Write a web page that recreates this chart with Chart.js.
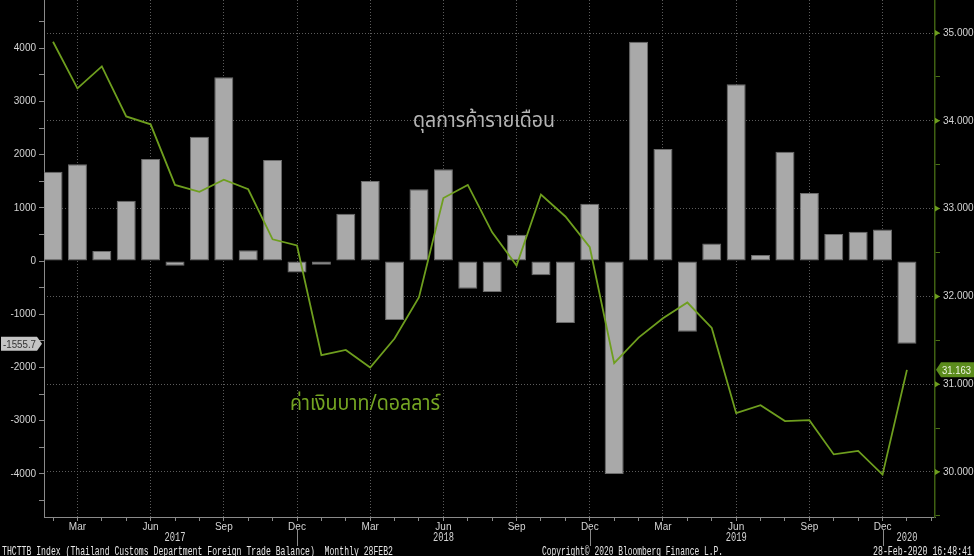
<!DOCTYPE html>
<html>
<head>
<meta charset="utf-8">
<script src="https://cdn.jsdelivr.net/npm/chart.js@4.4.1/dist/chart.umd.min.js"></script>
<style>
  html, body { margin: 0; padding: 0; background: #000; }
  canvas { display: block; }
</style>
</head>
<body>
<canvas id="chart" width="974" height="556"></canvas>
<script>
// monthly points, Feb 2017 .. Jan 2020
const months = [
  "Feb 2017", "Mar 2017", "Apr 2017", "May 2017", "Jun 2017", "Jul 2017", "Aug 2017", "Sep 2017", "Oct 2017", "Nov 2017", "Dec 2017",
  "Jan 2018", "Feb 2018", "Mar 2018", "Apr 2018", "May 2018", "Jun 2018", "Jul 2018", "Aug 2018", "Sep 2018", "Oct 2018", "Nov 2018", "Dec 2018",
  "Jan 2019", "Feb 2019", "Mar 2019", "Apr 2019", "May 2019", "Jun 2019", "Jul 2019", "Aug 2019", "Sep 2019", "Oct 2019", "Nov 2019", "Dec 2019",
  "Jan 2020"
];

// trade balance, USD mn (bars, left axis)
const tradeBalance = [
  1680, 1818, 190, 1133, 1917, -90, 2337, 3453, 201, 1898, -213,
  -70, 889, 1504, -1109, 1348, 1724, -520, -583, 494, -269, -1165, 1077,
  -4004, 4122, 2105, -1329, 332, 3321, 113, 2055, 1278, 507, 551, 595,
  -1555.7
];

// baht per dollar (line, right axis)
const bahtPerUsd = [
  34.90, 34.37, 34.62, 34.05, 33.96, 33.27, 33.19, 33.33, 33.22, 32.65, 32.58,
  31.33, 31.39, 31.19, 31.52, 31.99, 33.12, 33.27, 32.73, 32.35, 33.16, 32.91, 32.56,
  31.24, 31.53, 31.75, 31.93, 31.64, 30.67, 30.76, 30.58, 30.59, 30.20, 30.24, 29.97,
  31.163
];

const leftTicks = [-4000, -3000, -2000, -1000, 0, 1000, 2000, 3000, 4000];
const rightTicks = [30, 31, 32, 33, 34, 35];
const quarterMonths = ["Mar", "Jun", "Sep", "Dec"];
// year label -> month it sits under
const yearLabels = [["2017", "Jul 2017"], ["2018", "Jun 2018"], ["2019", "Jun 2019"], ["2020", "Jan 2020"]];

const tradeTitle = "ดุลการค้ารายเดือน";
const bahtTitle = "ค่าเงินบาท/ดอลลาร์";
const footLeft = "THCTTB Index (Thailand Customs Department Foreign Trade Balance)  Monthly 28FEB2";
const footMid = "Copyright\u00A9 2020 Bloomberg Finance L.P.";
const footRight = "28-Feb-2020 16:48:41";

const GREEN = "#6e9e1e";
const GRID = "#5c5c5c";
const AXIS = "#8a8a8a";
const LABEL = "#d4d4d4";
const SANS = "'Liberation Sans', Arial, sans-serif";
const MONO = "'Liberation Mono', 'DejaVu Sans Mono', monospace";
const THAI = "'Noto Sans Thai', 'Noto Sans Thai UI', 'Loma', 'Garuda', 'Noto Sans', sans-serif";

const isQuarter = (i) => months[i] && quarterMonths.includes(months[i].slice(0, 3));

// draw text squeezed/stretched to a given width
function fitText(ctx, text, left, baseline, width, font, color) {
  ctx.save();
  ctx.font = font;
  ctx.fillStyle = color;
  ctx.textAlign = "left";
  ctx.textBaseline = "alphabetic";
  const w = ctx.measureText(text).width || width;
  ctx.translate(left, baseline);
  ctx.scale(width / w, 1);
  ctx.fillText(text, 0, 0);
  ctx.restore();
}

// keep the plot flush with the canvas edges
function noPad(s) {
  s.paddingTop = 0;
  s.paddingBottom = 0;
  s.paddingLeft = 0;
  s.paddingRight = 0;
}

const decor = {
  id: "decor",
  afterDraw(chart) {
    const ctx = chart.ctx;
    const x = chart.scales.x;
    const yl = chart.scales.y;
    const yr = chart.scales.y1;
    const area = chart.chartArea;

    // right axis markers
    ctx.save();
    ctx.fillStyle = GREEN;
    rightTicks.forEach((v) => {
      const py = yr.getPixelForValue(v);
      ctx.beginPath();
      ctx.moveTo(area.right, py - 3);
      ctx.lineTo(area.right + 5, py);
      ctx.lineTo(area.right, py + 3);
      ctx.closePath();
      ctx.fill();
    });
    ctx.restore();

    // last value tag, left
    const lastTrade = tradeBalance[tradeBalance.length - 1];
    let py = yl.getPixelForValue(lastTrade);
    ctx.save();
    ctx.fillStyle = "#c4c4c4";
    ctx.beginPath();
    ctx.moveTo(1, py - 7);
    ctx.lineTo(37, py - 7);
    ctx.lineTo(42, py);
    ctx.lineTo(37, py + 7);
    ctx.lineTo(1, py + 7);
    ctx.closePath();
    ctx.fill();
    ctx.restore();
    fitText(ctx, String(lastTrade), 3, py + 4, 33, "10px " + SANS, "#333");

    // last value tag, right
    const lastBaht = bahtPerUsd[bahtPerUsd.length - 1];
    py = yr.getPixelForValue(lastBaht);
    ctx.save();
    ctx.fillStyle = "#5b8c1c";
    ctx.beginPath();
    ctx.moveTo(area.right + 1, py);
    ctx.lineTo(area.right + 6, py - 7.5);
    ctx.lineTo(974, py - 7.5);
    ctx.lineTo(974, py + 7.5);
    ctx.lineTo(area.right + 6, py + 7.5);
    ctx.closePath();
    ctx.fill();
    ctx.restore();
    fitText(ctx, lastBaht.toFixed(3), 942, py + 4, 29, "10px " + SANS, "#eef4e2");

    // year separators under December ticks
    ctx.save();
    ctx.strokeStyle = AXIS;
    ctx.lineWidth = 1;
    months.forEach((m, i) => {
      if (m.startsWith("Dec")) {
        const px = Math.round(x.getPixelForValue(i)) + 0.5;
        ctx.beginPath();
        ctx.moveTo(px, 530);
        ctx.lineTo(px, 546);
        ctx.stroke();
      }
    });
    ctx.restore();

    // year labels
    yearLabels.forEach(([yr4, m]) => {
      const px = x.getPixelForValue(months.indexOf(m));
      fitText(ctx, yr4, px - 10.5, 541, 21, "12px " + MONO, LABEL);
    });

    // series titles
    fitText(ctx, tradeTitle, 413, 127, 142, "21px " + THAI, "#b4b4b4");
    fitText(ctx, bahtTitle, 290, 410, 150, "21px " + THAI, "#74a422");

    // footer
    fitText(ctx, footLeft, 2, 555, 391, "12px " + MONO, "#e6e6e6");
    fitText(ctx, footMid, 542, 555, 181, "12px " + MONO, "#e6e6e6");
    fitText(ctx, footRight, 873, 555, 99, "12px " + MONO, "#e6e6e6");
  }
};

new Chart(document.getElementById("chart"), {
  type: "bar",
  data: {
    datasets: [
      {
        type: "line",
        label: bahtTitle,
        data: bahtPerUsd.map((v, i) => ({ x: i, y: v })),
        yAxisID: "y1",
        borderColor: GREEN,
        borderWidth: 1.8,
        pointRadius: 0,
        tension: 0,
        order: 0
      },
      {
        type: "bar",
        label: tradeTitle,
        data: tradeBalance.map((v, i) => ({ x: i, y: v })),
        yAxisID: "y",
        backgroundColor: "#a9a9a9",
        borderColor: "#6c6c6c",
        borderWidth: 1,
        borderSkipped: false,
        barPercentage: 1,
        categoryPercentage: 0.78,
        order: 1
      }
    ]
  },
  options: {
    responsive: false,
    animation: false,
    devicePixelRatio: 1,
    layout: { padding: 0 },
    plugins: { legend: { display: false }, tooltip: { enabled: false } },
    scales: {
      x: {
        type: "linear",
        offset: false,
        min: -0.37,
        max: 36.15,
        afterBuildTicks: (s) => { s.ticks = months.map((m, i) => ({ value: i })).concat([{ value: 36 }]); },
        afterFit: (s) => { s.height = 39; noPad(s); },
        ticks: {
          autoSkip: false,
          maxRotation: 0,
          padding: 0,
          color: LABEL,
          font: { family: SANS, size: 10 },
          callback: (v) => (isQuarter(v) ? months[v].slice(0, 3) : "")
        },
        grid: {
          offset: false,
          color: (c) => (c.tick && isQuarter(c.tick.value) ? GRID : "transparent"),
          tickColor: AXIS,
          tickLength: 4,
          lineWidth: 1
        },
        border: { display: true, color: AXIS, width: 1, dash: [1, 2] }
      },
      y: {
        position: "left",
        min: -4810,
        max: 4906,
        afterBuildTicks: (s) => {
          const t = [];
          leftTicks.forEach((v) => { t.push({ value: v }); if (v < 4000) t.push({ value: v + 500 }); });
          t.unshift({ value: -4500 });
          t.push({ value: 4500 });
          s.ticks = t;
        },
        afterFit: (s) => { s.width = 44; noPad(s); },
        ticks: {
          padding: 3,
          color: LABEL,
          font: { family: SANS, size: 10 },
          callback: (v) => (leftTicks.includes(v) ? String(v) : "")
        },
        grid: { drawOnChartArea: false, tickColor: AXIS, tickLength: 5 },
        border: { display: true, color: AXIS, width: 1 }
      },
      y1: {
        position: "right",
        min: 29.487,
        max: 35.376,
        afterBuildTicks: (s) => {
          const t = [];
          rightTicks.forEach((v) => { t.push({ value: v - 0.5 }); t.push({ value: v }); });
          s.ticks = t;
        },
        afterFit: (s) => { s.width = 39; noPad(s); },
        ticks: {
          padding: 3,
          color: LABEL,
          font: { family: SANS, size: 10 },
          callback: (v) => (rightTicks.includes(v) ? v.toFixed(3) : "")
        },
        grid: {
          color: (c) => (c.tick && rightTicks.includes(c.tick.value) ? GRID : "transparent"),
          tickColor: "#4a6e16",
          tickLength: 5,
          lineWidth: 1
        },
        border: { display: true, color: "#3f6012", width: 1.5, dash: [1, 2] }
      }
    }
  },
  plugins: [decor]
});
</script>
</body>
</html>
